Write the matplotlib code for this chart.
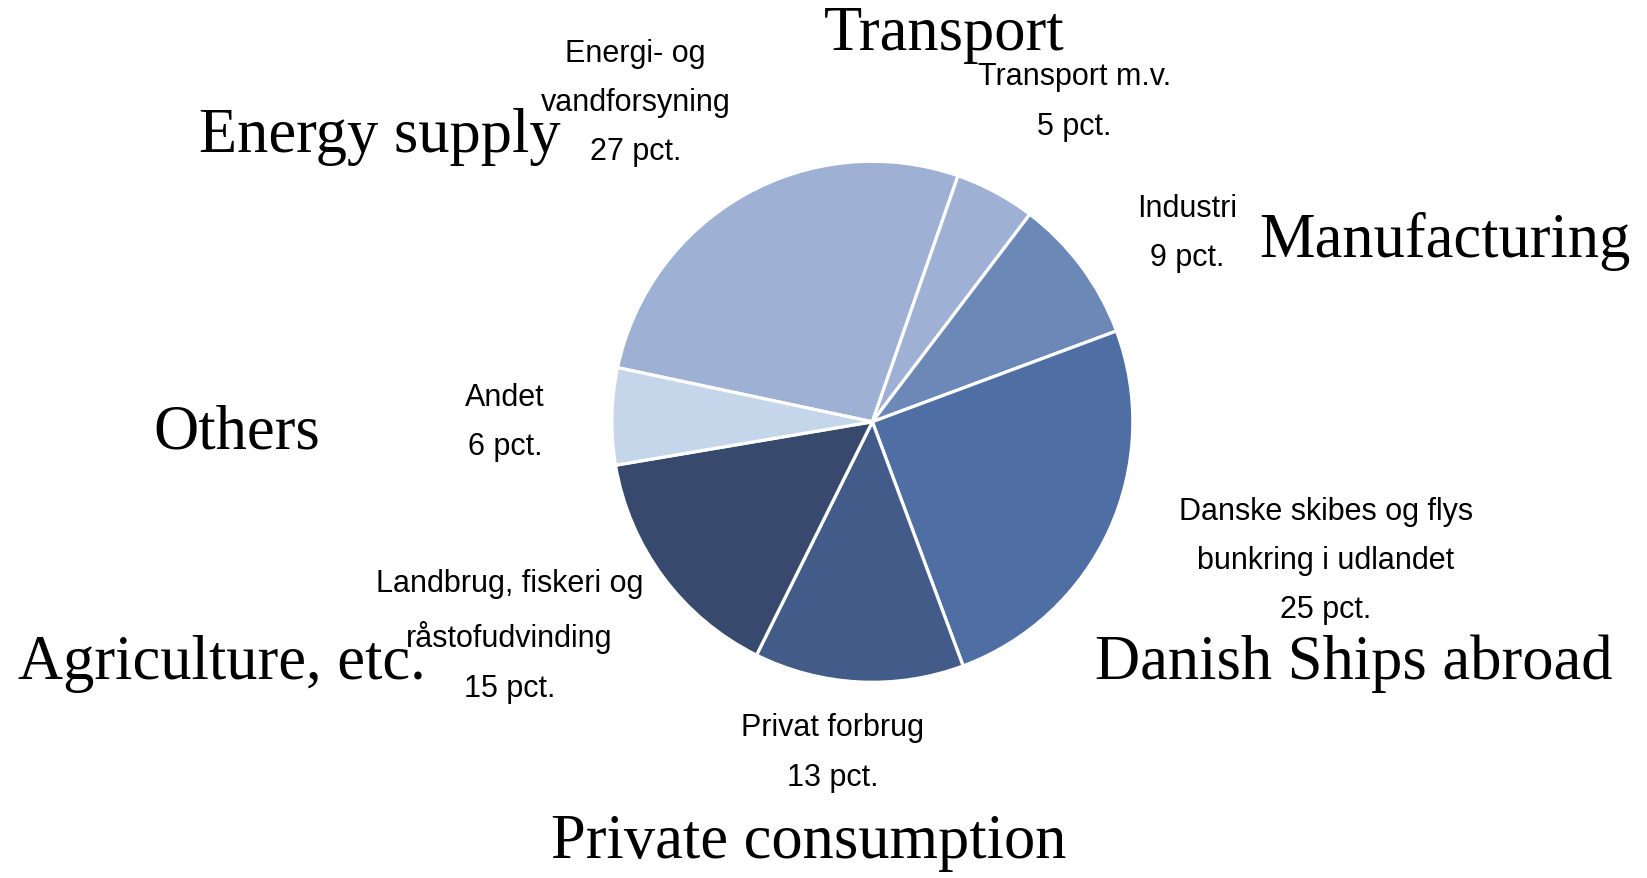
import matplotlib
matplotlib.use("Agg")
import matplotlib.pyplot as plt

# data
labels_dk = ["Energi- og\nvandforsyning\n27 pct.", "Transport m.v.\n5 pct.", "Industri\n9 pct.",
             "Danske skibes og flys\nbunkring i udlandet\n25 pct.", "Privat forbrug\n13 pct.",
             "Landbrug, fiskeri og\nråstofudvinding\n15 pct.", "Andet\n6 pct."]
labels_en = ["Energy supply", "Transport", "Manufacturing", "Danish Ships abroad",
             "Private consumption", "Agriculture, etc.", "Others"]
shares = [27, 5, 9, 25, 13, 15, 6]
colors = ["#9EB0D4", "#9EB0D4", "#6C88B7", "#4F6EA3", "#435B89", "#37496D", "#C6D6EA"]

W, H = 1647, 879
s = W / 1568  # positions measured on the shrunk picture

fig = plt.figure(figsize=(W / 100, H / 100), dpi=100)
ax = fig.add_axes([0, 0, 1, 1])

cx, cy, r = 830.5 * s, H - 402.5 * s, 248 * s
ax.pie(shares, colors=colors, startangle=168, counterclock=False,
       center=(cx, cy), radius=r, frame=True,
       wedgeprops=dict(edgecolor="white", linewidth=2.3))
ax.set_xlim(0, W)
ax.set_ylim(0, H)
ax.set_aspect("equal")
ax.axis("off")

dk_pos = [(605, 98), (1023, 97), (1130, 222), (1262, 534), (793, 717), (485, 606), (481, 402)]
en_pos = [(362, 130), (899, 33), (1376, 230), (1289, 632), (770, 803), (211, 632), (225, 413)]

for lab, (x, y) in zip(labels_dk, dk_pos):
    ax.text(x * s, H - y * s, lab, ha="center", va="center", fontsize=22,
            family="Liberation Sans", linespacing=1.84, color="black")
for lab, (x, y) in zip(labels_en, en_pos):
    ax.text(x * s, H - y * s, lab, ha="center", va="center", fontsize=45,
            family="Liberation Serif", color="black")

fig.savefig("out.png", dpi=100)
